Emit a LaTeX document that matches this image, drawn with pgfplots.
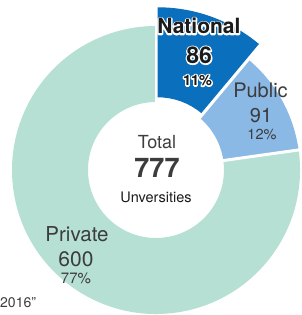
\documentclass[border=0pt]{standalone}
\usepackage{fontspec}
\setmainfont{TeX Gyre Heros}
\usepackage{pgfplots}
\pgfplotsset{compat=1.18}
\usetikzlibrary{calc}
\definecolor{natC}{HTML}{0A6FBD}
\definecolor{pubC}{HTML}{8BB9E5}
\definecolor{priC}{HTML}{B6E0D3}
\definecolor{txt}{HTML}{3C3C3C}
\definecolor{dark}{HTML}{1A1A1A}

% values
\def\vN{86}\def\vP{91}\def\vR{600}
\pgfmathsetmacro\tot{\vN+\vP+\vR}
\pgfmathsetmacro\aN{90-\vN/\tot*360}
\pgfmathsetmacro\aP{\aN-\vP/\tot*360}
\pgfmathsetmacro\aR{\aP-\vR/\tot*360}
\pgfmathsetmacro\aMid{(90+\aN)/2}

\newcommand\halo[4]{%
  \node[anchor=base,text=white,inner sep=0] at (#1pt,#2pt) {\special{pdf:code q 1 Tr 2.8 w 1 j 1 1 1 RG}#3 #4\special{pdf:code Q}};
  \node[anchor=base,text=dark,inner sep=0] at (#1pt,#2pt) {#3 #4};}

\begin{document}
\begin{tikzpicture}
\useasboundingbox (0,0) rectangle (301pt,315pt);
\begin{axis}[x=1pt,y=1pt,xmin=0,xmax=301,ymin=0,ymax=315,hide axis,clip=false,
  scale only axis,at={(0,0)},anchor=south west]
% Private
\fill[priC] (axis cs:156,145) ++(\aP:144pt) arc[start angle=\aP,end angle=\aR,radius=144pt]
  -- ($(axis cs:156,145)+(\aR:68pt)$) arc[start angle=\aR,end angle=\aP,radius=68pt] -- cycle;
% Public
\fill[pubC] (axis cs:156,145) ++(\aN:144pt) arc[start angle=\aN,end angle=\aP,radius=144pt]
  -- ($(axis cs:156,145)+(\aP:68pt)$) arc[start angle=\aP,end angle=\aN,radius=68pt] -- cycle;
% separators
\draw[white,line width=3pt] (axis cs:156,145) -- ++(90:175pt);
\draw[white,line width=3pt] (axis cs:156,145) -- ++(\aN:175pt);
\draw[white,line width=3pt] (axis cs:156,145) -- ++(\aP:175pt);
% National (exploded)
\fill[natC] ($(axis cs:156,145)+(\aMid:5pt)$) ++(90:158pt) arc[start angle=90,end angle=\aN,radius=158pt]
  -- ($(axis cs:156,145)+(\aMid:5pt)+(\aN:68pt)$) arc[start angle=\aN,end angle=90,radius=68pt] -- cycle;
\end{axis}
% labels
\halo{196}{281}{\fontsize{21}{24}\bfseries}{National}
\halo{196}{251.5}{\fontsize{23}{26}\bfseries}{86}
\halo{195.5}{229.5}{\fontsize{14.5}{17}\bfseries}{11\%}
\node[anchor=base,text=txt,inner sep=0] at (260.5pt,217pt) {\fontsize{20}{24}\selectfont Public};
\node[anchor=base,text=txt,inner sep=0] at (261pt,192pt) {\fontsize{20}{24}\selectfont 91};
\node[anchor=base,text=txt,inner sep=0] at (262pt,175pt) {\fontsize{14.5}{17}\selectfont 12\%};
\node[anchor=base,text=txt,inner sep=0] at (157pt,166pt) {\fontsize{18}{21}\selectfont Total};
\node[anchor=base,text=txt,inner sep=0] at (157pt,137pt) {\fontsize{27}{30}\selectfont\bfseries 777};
\node[anchor=base,text=dark,inner sep=0] at (156pt,112pt) {\fontsize{14.5}{17}\selectfont Unversities};
\node[anchor=base,text=txt,inner sep=0] at (77pt,73pt) {\fontsize{20.5}{24}\selectfont Private};
\node[anchor=base,text=txt,inner sep=0] at (76pt,48pt) {\fontsize{21}{24}\selectfont 600};
\node[anchor=base,text=txt,inner sep=0] at (76pt,31pt) {\fontsize{15}{18}\selectfont 77\%};
\node[anchor=base west,text=txt,inner sep=0] at (0pt,7pt) {\fontsize{14}{17}\selectfont 2016”};
\end{tikzpicture}
\end{document}
